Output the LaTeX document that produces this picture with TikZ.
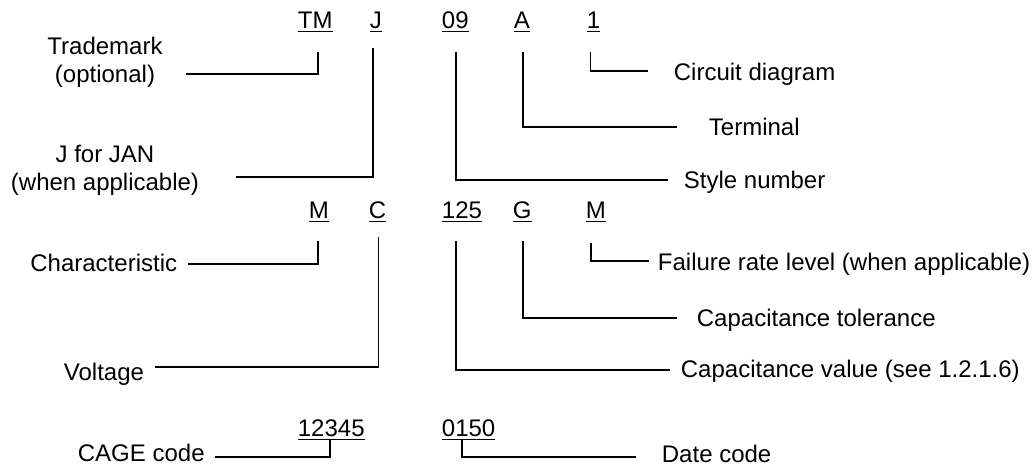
\documentclass[tikz,border=0pt]{standalone}
\usepackage{fontspec}
\setmainfont{Liberation Sans}
\usepackage{tikz}
\newcommand{\ucode}[1]{\setbox0=\hbox{#1}\rlap{\rule[-2.1pt]{\wd0}{0.75pt}}\box0}

\begin{document}
\begin{tikzpicture}[x=0.5pt,y=-0.5pt,line width=0.9pt,
		every node/.style={inner sep=0pt,font=\fontsize{12}{14}\selectfont},
		code/.style={anchor=base west},
		lbl/.style={anchor=base west},
		lbltwo/.style={anchor=base,align=center}]
		\useasboundingbox (0,0) rectangle (1036,467);
		
		\node[code] (ctm)    at (297,28)  {\ucode{TM}};
		\node[code] (cj)     at (369,28)  {\ucode{J}};
		\node[code] (csty)   at (441,28)  {\ucode{09}};
		\node[code] (cterm)  at (513,28)  {\ucode{A}};
		\node[code] (ccirc)  at (586,28)  {\ucode{1}};
		\node[code] (cchar)  at (308,218) {\ucode{M}};
		\node[code] (cvolt)  at (368,218) {\ucode{C}};
		\node[code] (cval)   at (441,218) {\ucode{125}};
		\node[code] (ctol)   at (512,218) {\ucode{G}};
		\node[code] (cfail)  at (585,218) {\ucode{M}};
		\node[code] (ccage)  at (297,436) {\ucode{12345}};
		\node[code] (cdate)  at (441,436) {\ucode{0150}};
		
		\node[lbltwo] (ltrade) at (105,82)  {Trademark\\(optional)};
		\node[lbltwo] (ljan)   at (105,190) {J for JAN\\(when applicable)};
		\node[lbl]    (lcirc)  at (673,80)  {Circuit diagram};
		\node[lbl]    (lterm)  at (708,135) {Terminal};
		\node[lbl]    (lsty)   at (683,188) {Style number};
		\node[lbl,anchor=base east] (lchar) at (178,271) {Characteristic};
		\node[lbl]    (lfail)  at (657,270) {Failure rate level (when applicable)};
		\node[lbl]    (ltol)   at (696,326) {Capacitance tolerance};
		\node[lbl]    (lvolt)  at (63,380)  {Voltage};
		\node[lbl]    (lval)   at (680,377) {Capacitance value (see 1.2.1.6)};
		\node[lbl]    (lcage)  at (77,461)  {CAGE code};
		\node[lbl]    (ldate)  at (661,462) {Date code};
		
		\coordinate (etm)   at (186,74);
		\coordinate (ej)    at (236,177);
		\coordinate (esty)  at (668,180);
		\coordinate (eterm) at (677,127);
		\coordinate (ecirc) at (648,71);
		\coordinate (echar) at (188,264);
		\coordinate (evolt) at (155,367);
		\coordinate (eval)  at (670,370);
		\coordinate (etol)  at (677,318);
		\coordinate (efail) at (649,261);
		\coordinate (ecage) at (215,457);
		\coordinate (edate) at (636,457);
		
		\draw (ctm.south) ++(3,19) |- (etm);
		\draw (cj.south) ++(-3,15) |- (ej);
		\draw (csty.south) ++(1,19) |- (esty);
		\draw (cterm.south) ++(1,19) |- (eterm);
		\draw (ccirc.south) ++(-3,19) |- (ecirc);
		\draw (cchar.south) ++(-1,18) |- (echar);
		\draw (cvolt.south) ++(1,14) |- (evolt);
		\draw (cval.south) ++(-6,18) |- (eval);
		\draw (ctol.south) ++(1,18) |- (etol);
		\draw (cfail.south) ++(-5,20) |- (efail);
		\draw (ccage.south) ++(-1,-1) |- (ecage);
		\draw (cdate.south) ++(-7,-1) |- (edate);
\end{tikzpicture}
\end{document}
